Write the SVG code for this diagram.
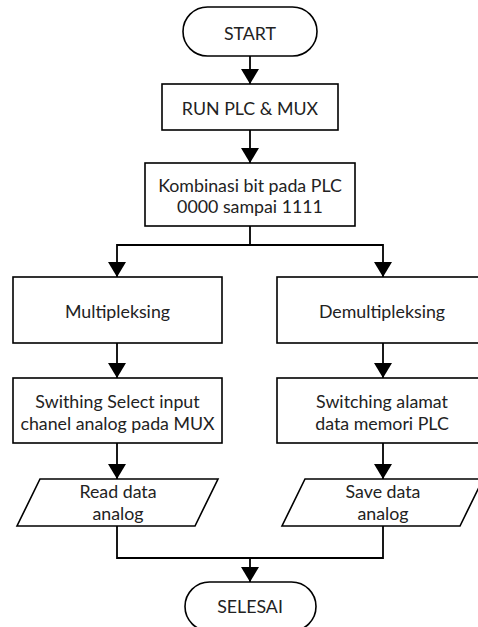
<svg xmlns="http://www.w3.org/2000/svg" width="478" height="627" viewBox="0 0 478 627">
<style>
.s{fill:#fff;stroke:#000;stroke-width:1.6}
.t{font-family:Lato,"Liberation Sans",sans-serif;font-size:17.8px;fill:#222;text-anchor:middle}
.c{fill:none;stroke:#000;stroke-width:1.8}
</style>
<defs>
<marker id="ah" viewBox="0 0 15 18" refX="15" refY="9" markerWidth="15" markerHeight="18" markerUnits="userSpaceOnUse" orient="auto">
<path d="M0,0 L15,9 L0,18 z" fill="#000"/>
</marker>
</defs>
<rect width="478" height="627" fill="#fff"/>
<g id="connectors" class="c" marker-end="url(#ah)">
<path d="M250 56 V84"/>
<path d="M250 130 V163"/>
<path d="M250 226 V245 H117 V277"/>
<path d="M250 245 H383 V277"/>
<path d="M117 343 V378"/>
<path d="M383 343 V378"/>
<path d="M117 443 V479"/>
<path d="M383 443 V479"/>
<path d="M117 526 V558 H383 V526" marker-end="none"/>
<path d="M250 558 V582"/>
</g>
<g id="start">
<rect class="s" x="183" y="7" width="134" height="49" rx="24.5"/>
<text class="t" x="250" y="40">START</text>
</g>
<g id="run">
<rect class="s" x="162" y="84" width="176" height="46"/>
<text class="t" x="250" y="115">RUN PLC &amp; MUX</text>
</g>
<g id="kombinasi">
<rect class="s" x="145" y="163" width="210" height="63"/>
<text class="t" x="250" y="192">Kombinasi bit pada PLC</text>
<text class="t" x="250" y="213">0000 sampai 1111</text>
</g>
<g id="multipleksing">
<rect class="s" x="13" y="277" width="209" height="66"/>
<text class="t" x="117.5" y="318">Multipleksing</text>
</g>
<g id="demultipleksing">
<rect class="s" x="277" y="277" width="209" height="66"/>
<text class="t" x="382" y="318">Demultipleksing</text>
</g>
<g id="swithing">
<rect class="s" x="13" y="378" width="209" height="65"/>
<text class="t" x="117.5" y="408">Swithing Select input</text>
<text class="t" x="117.5" y="430">chanel analog pada MUX</text>
</g>
<g id="switching">
<rect class="s" x="277" y="378" width="209" height="65"/>
<text class="t" x="382" y="408">Switching alamat</text>
<text class="t" x="382" y="430">data memori PLC</text>
</g>
<g id="read">
<polygon class="s" points="40,479 218,479 195,526 17,526"/>
<text class="t" x="118" y="498">Read data</text>
<text class="t" x="118" y="520">analog</text>
</g>
<g id="save">
<polygon class="s" points="305,479 483,479 460,526 282,526"/>
<text class="t" x="383" y="498">Save data</text>
<text class="t" x="383" y="520">analog</text>
</g>
<g id="selesai">
<rect class="s" x="185" y="582" width="131" height="49" rx="24.5"/>
<text class="t" x="250" y="613">SELESAI</text>
</g>
</svg>
